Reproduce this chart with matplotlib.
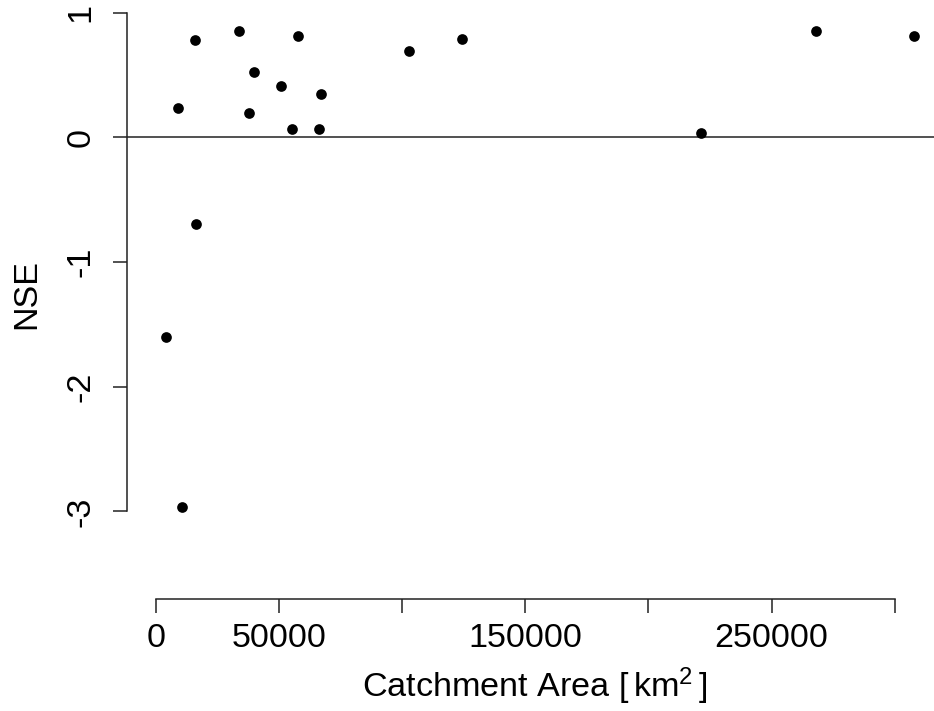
import matplotlib
matplotlib.use("Agg")
import matplotlib.pyplot as plt

plt.rcParams['font.family'] = ['Liberation Sans', 'DejaVu Sans']

# Catchment area [km^2] and Nash-Sutcliffe efficiency per catchment
area = [9058, 15963, 33834, 39805, 37896, 50771, 57677, 55118, 66206, 67019,
        102762, 124411, 221243, 268075, 307880, 4184, 10682, 16248]
nse = [0.237, 0.778, 0.855, 0.521, 0.192, 0.414, 0.812, 0.064, 0.064, 0.350,
       0.692, 0.788, 0.032, 0.855, 0.812, -1.601, -2.967, -0.695]

xticks = [0, 50000, 100000, 150000, 200000, 250000, 300000]
xticklabels = ["0", "50000", "", "150000", "", "250000", ""]
yticks = [-3, -2, -1, 0, 1]
yticklabels = ["-3", "-2", "-1", "0", "1"]

W, H = 934, 711
fig = plt.figure(figsize=(W / 100, H / 100), dpi=100)

# plot region in pixels and the pixel scale of each axis
left_px, right_px, top_px, bottom_px = 127, 934, 5, 599
x0_px, x_per_50k = 156, 123.1
y0_px, y_per_unit = 137.3, 124.7

ax = fig.add_axes([left_px / W, 1 - bottom_px / H,
                   (right_px - left_px) / W, (bottom_px - top_px) / H])
ax.set_xlim((left_px - x0_px) / x_per_50k * 50000,
            (right_px - x0_px) / x_per_50k * 50000)
ax.set_ylim((y0_px - bottom_px) / y_per_unit, (y0_px - top_px) / y_per_unit)

ax.axhline(0, color='#222222', lw=1.1, zorder=1)
ax.plot(area, nse, linestyle='none', marker='o', ms=7.7, color='black',
        mec='black', mew=0, clip_on=False, zorder=3)

for s in ['top', 'right']:
    ax.spines[s].set_visible(False)
ax.spines['left'].set_bounds(-3, 1)
ax.spines['bottom'].set_bounds(0, 300000)
for s in ['left', 'bottom']:
    ax.spines[s].set_color('#222222')
    ax.spines[s].set_linewidth(1.1)

FS = 24.6
ax.set_xticks(xticks)
ax.set_xticklabels(xticklabels)
ax.set_yticks(yticks)
ax.set_yticklabels(yticklabels, rotation=90, va='center')
ax.tick_params(axis='both', direction='out', length=10, width=1.1,
               color='#222222', labelsize=FS, labelcolor='black')
ax.tick_params(axis='x', pad=7.5)
ax.tick_params(axis='y', pad=12)

fig.text(27 / W, 1 - 294 / H, "NSE", rotation=90, ha='center', va='center',
         fontsize=FS)
fig.text(535 / W, 1 - 697 / H, r"Catchment Area [$\mathregular{\,km^2\,}$]",
         ha='center', va='baseline', fontsize=FS)

fig.savefig("out.png", dpi=100)
